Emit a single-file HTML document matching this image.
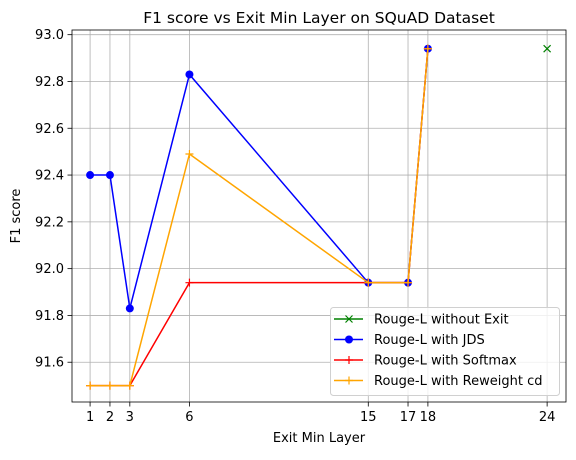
<!DOCTYPE html>
<html><head><meta charset="utf-8"><style>
body{margin:0;background:#fff}
svg{font-family:"DejaVu Sans","Liberation Sans",sans-serif}
</style></head><body>
<svg id="chart" width="576" height="455" xmlns="http://www.w3.org/2000/svg"></svg>
<script>
const xTicks=[1,2,3,6,15,17,18,24];
const yTicks=[91.6,91.8,92.0,92.2,92.4,92.6,92.8,93.0];
const layersA=[1,2,3,6,15,17,18];
const noExitX=[24];
const noExitY=[92.94];
const jds=[92.40,92.40,91.83,92.83,91.94,91.94,92.94];
const softmax=[91.5,91.5,91.5,91.94,91.94,91.94,92.94];
const reweight=[91.5,91.5,91.5,92.49,91.94,91.94,92.94];
const L=72,R=566,T=30,B=402;
const xmin=0.09,xmax=24.95,ymin=91.43,ymax=93.02;
const X=v=>L+(v-xmin)/(xmax-xmin)*(R-L);
const Y=v=>B-(v-ymin)/(ymax-ymin)*(B-T);
const svg=document.getElementById('chart');
const NS='http://www.w3.org/2000/svg';
function mk(tag,attrs,parent){const e=document.createElementNS(NS,tag);for(const k in attrs)e.setAttribute(k,attrs[k]);(parent||svg).appendChild(e);return e;}
xTicks.forEach(t=>{
  const g=mk('line',{x1:X(t),x2:X(t),y1:T,y2:B,stroke:'#b0b0b0','stroke-width':0.8});
  
  
  mk('line',{x1:X(t),x2:X(t),y1:B,y2:B+4.5,stroke:'#000','stroke-width':0.8});
  const tx=mk('text',{x:X(t),y:B+19,'text-anchor':'middle','font-size':13,fill:'#000'});tx.textContent=t;
  
  
});
yTicks.forEach(t=>{
  const g=mk('line',{x1:L,x2:R,y1:Y(t),y2:Y(t),stroke:'#b0b0b0','stroke-width':0.8});
  
  
  mk('line',{x1:L-4.5,x2:L,y1:Y(t),y2:Y(t),stroke:'#000','stroke-width':0.8});
  const tx=mk('text',{x:L-8,y:Y(t)+4.5,'text-anchor':'end','font-size':13,fill:'#000'});tx.textContent=t.toFixed(1);
  
  
});
function series(xs,ys,color,marker,name){
  const g=mk('g',{});
  
  
  if(xs.length>1)mk('polyline',{points:xs.map((x,i)=>X(x)+','+Y(ys[i])).join(' '),fill:'none',stroke:color,'stroke-width':1.5},g);
  xs.forEach((x,i)=>drawMarker(g,X(x),Y(ys[i]),color,marker));
}
function drawMarker(g,cx,cy,color,m){
  if(m==='o')mk('circle',{cx,cy,r:4,fill:color},g);
  else if(m==='+'){mk('path',{d:`M${cx-4},${cy}H${cx+4}M${cx},${cy-4}V${cy+4}`,stroke:color,'stroke-width':1.2},g);}
  else if(m==='x'){mk('path',{d:`M${cx-3.5},${cy-3.5}L${cx+3.5},${cy+3.5}M${cx-3.5},${cy+3.5}L${cx+3.5},${cy-3.5}`,stroke:color,'stroke-width':1.2},g);}
}
series(noExitX,noExitY,'green','x','series-without-exit');
series(layersA,jds,'blue','o','series-jds');
series(layersA,softmax,'red','+','series-softmax');
series(layersA,reweight,'orange','+','series-reweight');
const fr=mk('rect',{x:L,y:T,width:R-L,height:B-T,fill:'none',stroke:'#000','stroke-width':0.8});


const ti=mk('text',{x:(L+R)/2,y:23,'text-anchor':'middle','font-size':15.5,fill:'#000'});ti.textContent='F1 score vs Exit Min Layer on SQuAD Dataset';


const xl=mk('text',{x:(L+R)/2,y:442,'text-anchor':'middle','font-size':13,fill:'#000'});xl.textContent='Exit Min Layer';


const yl=mk('text',{x:0,y:0,'text-anchor':'middle','font-size':13,fill:'#000',transform:`translate(20,${(T+B)/2}) rotate(-90)`});yl.textContent='F1 score';


const lg=mk('g',{});


mk('rect',{x:330.5,y:307.5,width:229,height:88,rx:3,fill:'#fff','fill-opacity':0.8,stroke:'#d0d0d0'},lg);
const entries=[['Rouge-L without Exit','green','x'],['Rouge-L with JDS','blue','o'],['Rouge-L with Softmax','red','+'],['Rouge-L with Reweight cd','orange','+']];
entries.forEach((e,i)=>{
  const y=319+i*20.5;
  const eg=mk('g',{},lg);
  
  
  mk('line',{x1:334,x2:363,y1:y,y2:y,stroke:e[1],'stroke-width':1.5},eg);
  drawMarker(eg,349,y,e[1],e[2]);
  const t=mk('text',{x:374,y:y+4.5,'font-size':13,fill:'#000'},eg);t.textContent=e[0];
});
</script>
</body></html>
